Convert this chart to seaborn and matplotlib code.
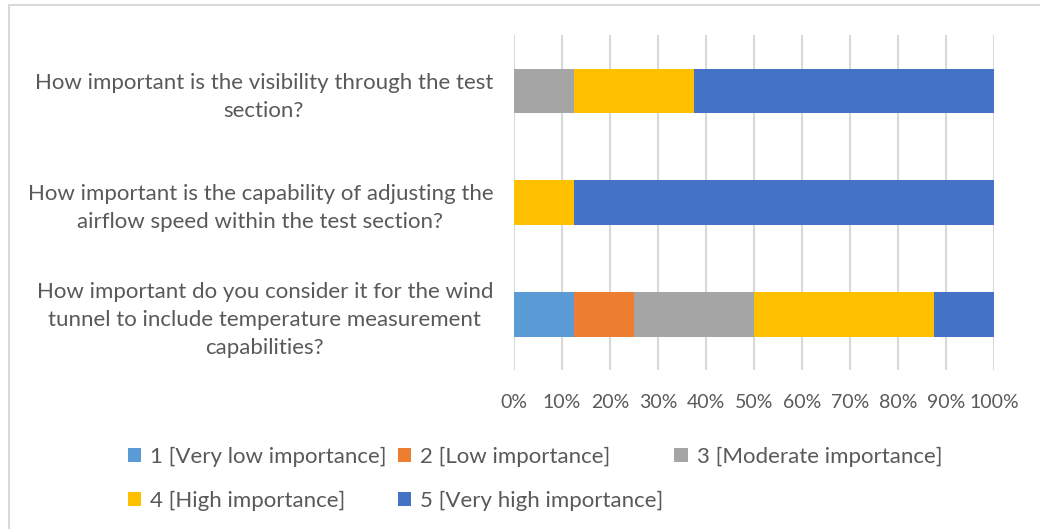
import matplotlib
matplotlib.use("Agg")
import matplotlib.pyplot as plt
from matplotlib.lines import Line2D
from matplotlib.patches import Patch
from matplotlib.ticker import FuncFormatter, MultipleLocator
import numpy as np
import pandas as pd
import seaborn as sns

questions = [
    "How important is the visibility through the test\nsection?",
    "How important is the capability of adjusting the\nairflow speed within the test section?",
    "How important do you consider it for the wind\ntunnel to include temperature measurement\ncapabilities?",
]
levels = [
    "1 [Very low importance]",
    "2 [Low importance]",
    "3 [Moderate importance]",
    "4 [High importance]",
    "5 [Very high importance]",
]
very_low = [0.0, 0.0, 12.5]
low = [0.0, 0.0, 12.5]
moderate = [12.5, 0.0, 25.0]
high = [25.0, 12.5, 37.5]
very_high = [62.5, 87.5, 12.5]
colors = ["#5B9BD5", "#ED7D31", "#A5A5A5", "#FFC000", "#4472C4"]

sns.set_theme(style="white")
plt.rcParams["font.family"] = ["Lato", "DejaVu Sans"]
text_color = "#595959"
grid_color = "#D9D9D9"

shares = np.array([very_low, low, moderate, high, very_high])
cumulative = np.cumsum(shares, axis=0)

fig = plt.figure(figsize=(10.4, 5.29), dpi=100)
ax = fig.add_axes([514 / 1040, 1 - 370 / 529, 480 / 1040, 335 / 529])

# stacked bars: draw cumulative totals from the widest down so each segment shows
for i in range(len(levels) - 1, -1, -1):
    df = pd.DataFrame({"question": questions, "value": cumulative[i]})
    sns.barplot(data=df, y="question", x="value", orient="h", color=colors[i],
                width=0.4, saturation=1, linewidth=0, ax=ax, zorder=3)

ax.set_xlim(0, 100)
ax.set_ylim(2.5, -0.5)
ax.xaxis.set_major_locator(MultipleLocator(10))
ax.xaxis.set_major_formatter(FuncFormatter(lambda v, p: f"{v:.0f}%"))
ax.grid(axis="x", color=grid_color, linewidth=1.5, zorder=0)
ax.set_axisbelow(True)
for s in ax.spines.values():
    s.set_visible(False)
ax.set_xlabel("")
ax.set_ylabel("")
ax.tick_params(axis="both", length=0, labelcolor=text_color)
ax.tick_params(axis="x", pad=17, labelsize=14)
ax.tick_params(axis="y", pad=15, labelsize=16)
for lbl in ax.get_yticklabels():
    lbl.set_multialignment("center")
    lbl.set_linespacing(1.5)

# legend laid out row by row (matplotlib fills columns first)
order = [0, 3, 1, 4, 2]
handles = [Patch(facecolor=colors[k], edgecolor="none") for k in order]
labels = [levels[k] for k in order]
fig.legend(handles, labels, ncol=3, loc="upper left",
           bbox_to_anchor=(108 / 1040, 1 - 427 / 529), frameon=False,
           fontsize=16, labelcolor=text_color, handlelength=0.6, handleheight=0.6,
           handletextpad=0.4, columnspacing=0.5, labelspacing=1.05)

# outer chart frame (top and left edges visible)
fig.add_artist(Line2D([9 / 1040, 1.0], [1 - 5 / 529, 1 - 5 / 529],
                      transform=fig.transFigure, color=grid_color, linewidth=1.5))
fig.add_artist(Line2D([9 / 1040, 9 / 1040], [0.0, 1 - 5 / 529],
                      transform=fig.transFigure, color=grid_color, linewidth=1.5))

fig.savefig("out.png", dpi=100, facecolor="white")
